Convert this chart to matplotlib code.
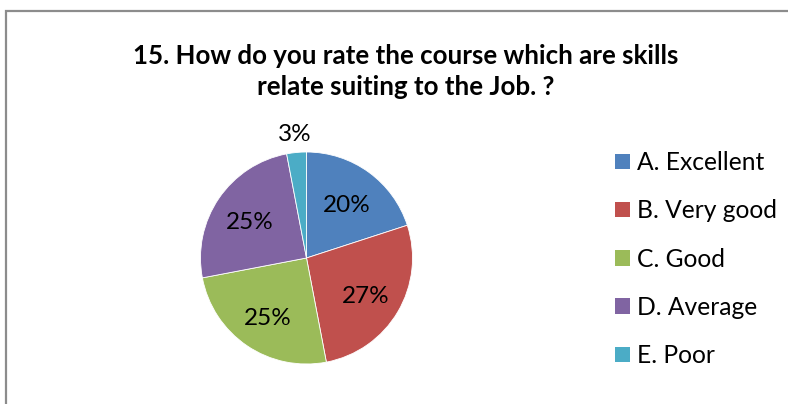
import numpy as np
import matplotlib
matplotlib.use('Agg')
import matplotlib.pyplot as plt
from matplotlib.patches import Rectangle, Patch

plt.rcParams['font.family'] = ['Lato', 'DejaVu Sans']

# data
categories = ['A. Excellent', 'B. Very good', 'C. Good', 'D. Average', 'E. Poor']
shares = [20, 27, 25, 25, 3]
colors = ['#4F81BD', '#C0504D', '#9BBB59', '#8064A2', '#4BACC6']
title = '15. How do you rate the course which are skills\nrelate suiting to the Job. ?'

W, H = 788, 404
fig = plt.figure(figsize=(W / 100, H / 100), dpi=100)

# chart border (right and bottom edges are cut off in the original)
fig.patches.append(Rectangle((6 / W, -0.1), 1.2, (H - 11) / H + 0.1,
                             transform=fig.transFigure, fill=False,
                             edgecolor='#8c8c8c', lw=1.6))

fig.text(405.5 / W, 1 - 71.5 / H, title, ha='center', va='center',
         fontsize=18.6, fontweight='bold', linespacing=1.36)

# pie axes: centre (306, 257), radius ~106 px
cx, cy, r = 306.5, 258, 106
ax = fig.add_axes([(cx - r) / W, (H - cy - r) / H, 2 * r / W, 2 * r / H])
wedges, _ = ax.pie(shares, colors=colors, startangle=90, counterclock=False,
                   radius=1, wedgeprops=dict(edgecolor='white', linewidth=0.6))
ax.set_xlim(-1, 1)
ax.set_ylim(-1, 1)
ax.set_aspect('equal')
ax.axis('off')

for w, v in zip(wedges, shares):
    mid = np.deg2rad((w.theta1 + w.theta2) / 2)
    d = 1.2 if v < 5 else 0.65
    ax.text(d * np.cos(mid), d * np.sin(mid) - 0.03, f'{v}%', ha='center',
            va='center', fontsize=17.5, clip_on=False)

handles = [Patch(facecolor=c, edgecolor='none') for c in colors]
fig.legend(handles, categories, loc='upper left',
           bbox_to_anchor=(615 / W, 1 - 151 / H), frameon=False,
           fontsize=17.7, handlelength=0.6, handleheight=0.6,
           handletextpad=0.28, labelspacing=1.03, borderpad=0, borderaxespad=0)

fig.savefig('out.png', dpi=100)
